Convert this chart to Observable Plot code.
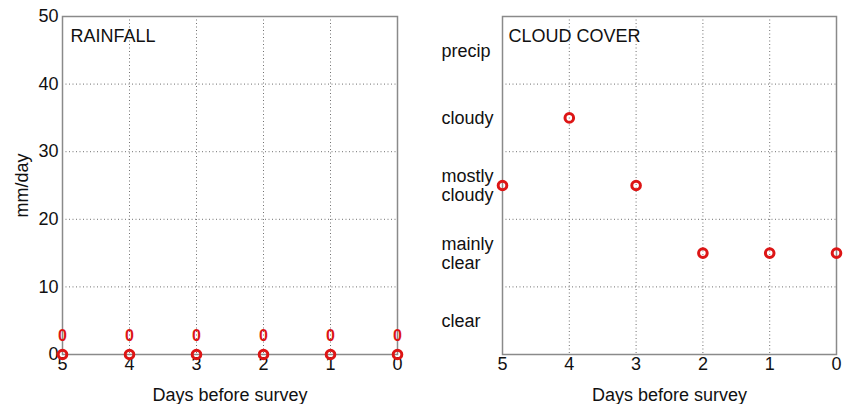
<!DOCTYPE html>
<html>
<head>
<meta charset="utf-8">
<script src="https://cdn.jsdelivr.net/npm/d3@7"></script>
<script src="https://cdn.jsdelivr.net/npm/@observablehq/plot@0.6"></script>
<style>
  html, body { margin: 0; padding: 0; background: #fff; }
  #wrap { display: flex; width: 857px; height: 404px; }
  svg { font-family: "Liberation Sans", Arial, sans-serif; }
</style>
</head>
<body>
<div id="wrap"></div>
<script>
// ---- data ----
const days = [5, 4, 3, 2, 1, 0];
const rainfall = [0, 0, 0, 0, 0, 0];          // mm/day
const rainTicks = [0, 10, 20, 30, 40, 50];
const cloudCategories = ["clear", "mainly\nclear", "mostly\ncloudy", "cloudy", "precip"];
const cloudCover = ["mostly\ncloudy", "cloudy", "mostly\ncloudy", "mainly\nclear", "mainly\nclear", "mainly\nclear"];

const RED = "#dd1515";
const INK = "#111";
const FRAME = "#8a8a8a";
const GRID = "#707070";

const rainData = days.map((d, i) => ({day: d, rain: rainfall[i]}));
const cloudData = days.map((d, i) => ({day: d, level: cloudCategories.indexOf(cloudCover[i]) + 0.5}));

const common = {
  height: 404,
  marginTop: 16,
  marginBottom: 50,
  style: {fontSize: "18px", fontFamily: "Liberation Sans, Arial, sans-serif", color: INK, background: "white", overflow: "visible"}
};

const left = Plot.plot({
  ...common,
  width: 430,
  marginLeft: 62,
  marginRight: 33,
  x: {domain: [5, 0]},
  y: {domain: [0, 50]},
  marks: [
    Plot.gridX([1, 2, 3, 4], {stroke: GRID, strokeOpacity: 1, strokeWidth: 1, strokeDasharray: "1,2.5"}),
    Plot.gridY([10, 20, 30, 40], {stroke: GRID, strokeOpacity: 1, strokeWidth: 1, strokeDasharray: "1,2.5"}),
    Plot.frame({stroke: FRAME, strokeWidth: 1.5}),
    Plot.axisX(days, {tickSize: 0, tickPadding: 3, fontSize: 18, fill: INK,
      label: "Days before survey", labelAnchor: "center", labelOffset: 46, labelArrow: "none"}),
    Plot.axisY(rainTicks, {tickSize: 0, tickPadding: 4, fontSize: 18, fill: INK,
      label: "mm/day", labelAnchor: "center", labelOffset: 47, labelArrow: "none"}),
    Plot.text(["RAINFALL"], {frameAnchor: "top-left", dx: 8, dy: 13, lineAnchor: "top", textAnchor: "start", fontSize: 18, fill: INK}),
    Plot.text(rainData, {x: "day", y: "rain", text: d => String(d.rain), dy: -19, fill: RED, fontSize: 16, fontWeight: "bold"}),
    Plot.dot(rainData, {x: "day", y: "rain", r: 4.3, stroke: RED, strokeWidth: 3, fill: "none"})
  ]
});

const right = Plot.plot({
  ...common,
  width: 427,
  marginLeft: 72,
  marginRight: 21,
  x: {domain: [5, 0]},
  y: {domain: [0, cloudCategories.length]},
  marks: [
    Plot.gridX([1, 2, 3, 4], {stroke: GRID, strokeOpacity: 1, strokeWidth: 1, strokeDasharray: "1,2.5"}),
    Plot.gridY([1, 2, 3, 4], {stroke: GRID, strokeOpacity: 1, strokeWidth: 1, strokeDasharray: "1,2.5"}),
    Plot.frame({stroke: FRAME, strokeWidth: 1.5}),
    Plot.axisX(days, {tickSize: 0, tickPadding: 3, fontSize: 18, fill: INK,
      label: "Days before survey", labelAnchor: "center", labelOffset: 46, labelArrow: "none"}),
    Plot.axisY(cloudCategories.map((c, i) => i + 0.5), {
      tickSize: 0, tickPadding: 0, dx: -61, textAnchor: "start", lineHeight: 1.08,
      tickFormat: v => cloudCategories[Math.floor(v)], fontSize: 18, fill: INK, label: null}),
    Plot.text(["CLOUD COVER"], {frameAnchor: "top-left", dx: 6, dy: 13, lineAnchor: "top", textAnchor: "start", fontSize: 18, fill: INK}),
    Plot.dot(cloudData, {x: "day", y: "level", r: 4.3, stroke: RED, strokeWidth: 3, fill: "none"})
  ]
});

document.getElementById("wrap").append(left, right);
</script>
</body>
</html>
